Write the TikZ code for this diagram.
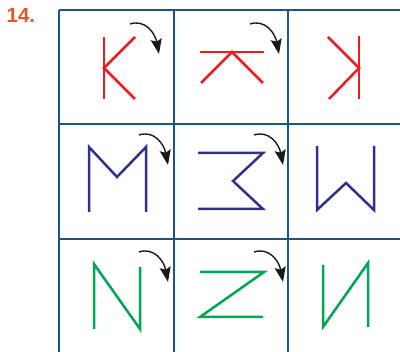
\documentclass[tikz,border=0pt]{standalone}
\usepackage{fontspec}
\setmainfont{Liberation Sans}
\usetikzlibrary{arrows.meta}
\definecolor{gridblue}{HTML}{1D5582}
\definecolor{kred}{HTML}{ED1C24}
\definecolor{mblue}{HTML}{2E3192}
\definecolor{ngreen}{HTML}{00A651}
\definecolor{numorange}{HTML}{E0582A}
\tikzset{
  gridline/.style={draw=gridblue, line width=1.8pt},
  redstroke/.style={draw=kred, line width=2.5pt},
  bluestroke/.style={draw=mblue, line width=2.5pt},
  greenstroke/.style={draw=ngreen, line width=2.5pt},
  turnarrow/.style={draw=black!90, line width=1.4pt, -{Stealth[length=15pt,width=11pt,inset=2.5pt]}},
}
\begin{document}
\begin{tikzpicture}[x=1pt,y=-1pt]
\useasboundingbox (0,0) rectangle (400,352);
\clip (0,0) rectangle (400,352);
% number
\node[anchor=base west, inner sep=0pt, text=numorange, font=\bfseries\fontsize{20.5}{24}\selectfont] (num) at (6.5,22.5) {14.};
% grid
\draw[gridline] (59,10) -- (420,10);
\draw[gridline] (59,124) -- (420,124);
\draw[gridline] (59,239) -- (420,239);
\draw[gridline] (59,10) -- (59,360);
\draw[gridline] (174,10) -- (174,360);
\draw[gridline] (288,10) -- (288,360);
% row 1: K
\draw[redstroke] (104,37) -- (104,99);
\draw[redstroke] (135,37) -- (104,68) -- (135,99);
\draw[redstroke] (200,52) -- (264,52);
\draw[redstroke] (201,83) -- (232,52) -- (263,83);
\draw[redstroke] (359,36) -- (359,99);
\draw[redstroke] (328,37) -- (359,68) -- (329,99);
% row 2: M
\draw[bluestroke] (89,212) -- (89,147) -- (117,177) -- (146,147) -- (146,212);
\draw[bluestroke] (198,153) -- (263,153) -- (233,181) -- (263,209) -- (198,209);
\draw[bluestroke] (317,146) -- (317,210) -- (346,183) -- (374,210) -- (374,146);
% row 3: N
\draw[greenstroke] (94,329) -- (94,264) -- (140,329) -- (140,267);
\draw[greenstroke] (200,272) -- (264,272) -- (200,317) -- (263,317);
\draw[greenstroke] (323,265) -- (323,327) -- (368,263) -- (368,327);
% arrows
\foreach \dx/\dy in {0/0, 120/0, 9/111, 124/111, 9/228, 124/228}{
  \draw[turnarrow] (130+\dx,24+\dy) .. controls (145+\dx,19+\dy) and (155+\dx,33+\dy) .. (159+\dx,54+\dy);
}
\end{tikzpicture}
\end{document}
